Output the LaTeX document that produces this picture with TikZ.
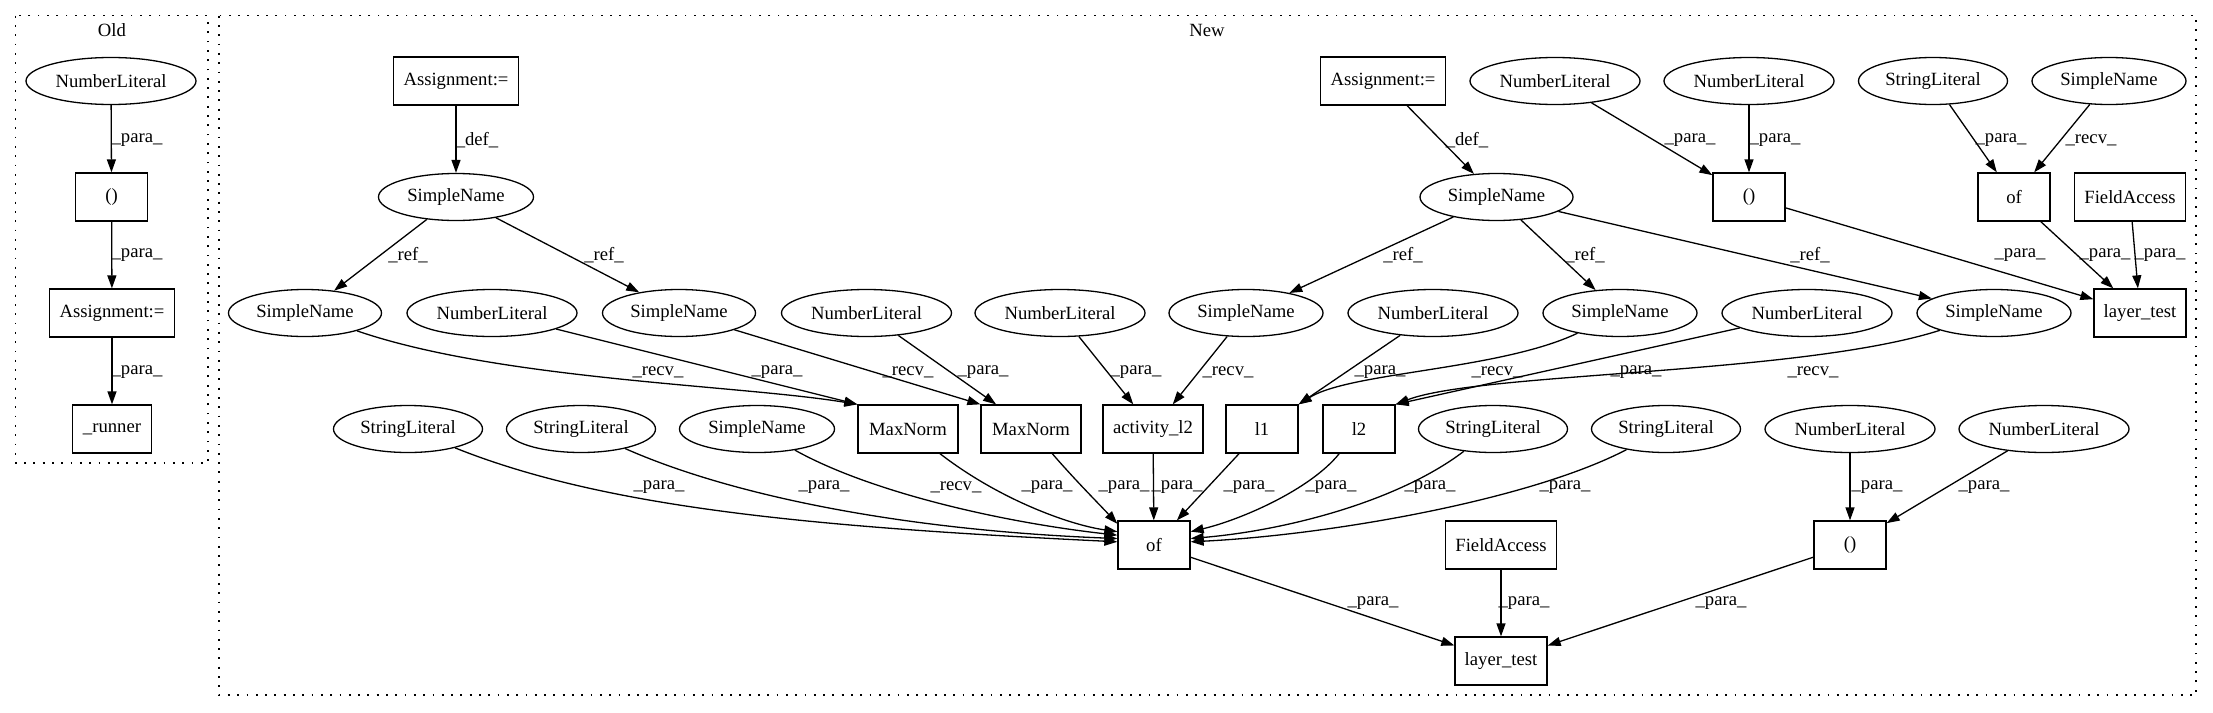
\documentclass[tikz,border=0pt]{standalone}
\usepackage{fontspec}
\setmainfont{Liberation Serif}
\usetikzlibrary{shapes.geometric,arrows.meta}
\begin{document}
\begin{tikzpicture}[x=1pt,y=-1pt,
  every node/.style={font=\fontsize{18.67}{22}\selectfont},
  ell/.style={draw, ellipse, line width=1.3pt, inner sep=0pt, minimum height=47pt},
  bx/.style={draw, rectangle, line width=1.3pt, inner sep=0pt, minimum height=48pt},
  lbl/.style={inner sep=0pt},
  arr/.style={line width=1.3pt, -{Triangle[length=13pt,width=9pt]}},
  clus/.style={line width=1.5pt, dash pattern=on 1.8pt off 7.5pt},
]
\useasboundingbox (0,0) rectangle (2213,712);
% clusters
\draw[clus] (15.7,15.7) rectangle (208,463);
\draw[clus] (219,15.7) rectangle (2196,695);
\node[lbl] (oldlbl) at (112,30) {Old};
\node[lbl] (newlbl) at (1207,30) {New};

% Old
\node[ell, minimum width=170pt] (oNL) at (111,81) {NumberLiteral};
\node[bx, minimum width=72pt] (oPar) at (111.6,197) {()};
\node[bx, minimum width=125pt] (oAsg) at (112,313) {Assignment:=};
\node[bx, minimum width=79pt] (oRun) at (112,429) {\_runner};

% New row 1
\node[bx, minimum width=125pt] (aL) at (456,81) {Assignment:=};
\node[bx, minimum width=125pt] (aR) at (1383,81) {Assignment:=};
\node[ell, minimum width=170pt] (nl1) at (1555,81) {NumberLiteral};
\node[ell, minimum width=170pt] (nl2) at (1749,81) {NumberLiteral};
\node[ell, minimum width=149pt] (sl1) at (1933,81) {StringLiteral};
\node[ell, minimum width=154pt] (sn1) at (2109,81) {SimpleName};
% row 2
\node[ell, minimum width=155pt] (snL) at (456,197) {SimpleName};
\node[ell, minimum width=153pt] (snR) at (1496.5,197) {SimpleName};
\node[bx, minimum width=72pt] (parA) at (1749,197) {()};
\node[bx, minimum width=72pt] (ofA) at (2014,197) {of};
\node[bx, minimum width=111pt] (faA) at (2130,197) {FieldAccess};
% row 3
\node[ell, minimum width=153pt] (sn3a) at (305,313) {SimpleName};
\node[ell, minimum width=170pt] (nl3a) at (492,313) {NumberLiteral};
\node[ell, minimum width=153pt] (sn3b) at (679,313) {SimpleName};
\node[ell, minimum width=170pt] (nl3b) at (866.5,313) {NumberLiteral};
\node[ell, minimum width=170pt] (nl3c) at (1060,313) {NumberLiteral};
\node[ell, minimum width=154pt] (sn3c) at (1246,313) {SimpleName};
\node[ell, minimum width=170pt] (nl3d) at (1433,313) {NumberLiteral};
\node[ell, minimum width=154pt] (sn3d) at (1620,313) {SimpleName};
\node[ell, minimum width=170pt] (nl3e) at (1807,313) {NumberLiteral};
\node[ell, minimum width=154pt] (sn3e) at (1994,313) {SimpleName};
\node[bx, minimum width=92pt] (lt1) at (2140,313) {layer\_test};
% row 4
\node[ell, minimum width=149pt] (sl4a) at (408,429) {StringLiteral};
\node[ell, minimum width=149pt] (sl4b) at (581,429) {StringLiteral};
\node[ell, minimum width=155pt] (sn4) at (757,429) {SimpleName};
\node[bx, minimum width=100pt] (mn1) at (908,429) {MaxNorm};
\node[bx, minimum width=100pt] (mn2) at (1031,429) {MaxNorm};
\node[bx, minimum width=100pt] (act) at (1153,429) {activity\_l2};
\node[bx, minimum width=72pt] (l1) at (1262,429) {l1};
\node[bx, minimum width=72pt] (l2) at (1359,429) {l2};
\node[ell, minimum width=149pt] (sl4c) at (1493,429) {StringLiteral};
\node[ell, minimum width=149pt] (sl4d) at (1666,429) {StringLiteral};
\node[ell, minimum width=170pt] (nl4a) at (1850,429) {NumberLiteral};
\node[ell, minimum width=170pt] (nl4b) at (2044,429) {NumberLiteral};
% row 5
\node[bx, minimum width=72pt] (of) at (1154,545) {of};
\node[bx, minimum width=111pt] (fa5) at (1501,545) {FieldAccess};
\node[bx, minimum width=72pt] (par5) at (1850,545) {()};
% row 6
\node[bx, minimum width=92pt] (lt2) at (1501,661) {layer\_test};

% Old edges
\draw[arr] (oNL) -- (oPar);
\draw[arr] (oPar) -- (oAsg);
\draw[arr] (oAsg) -- (oRun);
\node[lbl] (e1) at (137,140) {\_para\_};
\node[lbl] (e2) at (137,255) {\_para\_};
\node[lbl] (e3) at (137,372) {\_para\_};

% row1 -> row2
\draw[arr] (aL) -- (snL);
\draw[arr] (aR) -- (snR);
\draw[arr] (nl1) -- (parA);
\draw[arr] (nl2) -- (parA);
\draw[arr] (sl1) -- (ofA);
\draw[arr] (sn1) -- (ofA);
\node[lbl] (e4) at (477,140) {\_def\_};
\node[lbl] (e5) at (1467,140) {\_def\_};
\node[lbl] (e6) at (1690,140) {\_para\_};
\node[lbl] (e7) at (1775,140) {\_para\_};
\node[lbl] (e8) at (2001,140) {\_para\_};
\node[lbl] (e9) at (2091,140) {\_recv\_};

% row2 -> row3
\draw[arr] (snL) -- (sn3a);
\draw[arr] (snL) -- (sn3b);
\draw[arr] (snR) -- (sn3c);
\draw[arr] (snR) -- (sn3d);
\draw[arr] (snR) -- (sn3e);
\draw[arr] (parA) -- (lt1);
\draw[arr] (ofA) -- (lt1);
\draw[arr] (faA) -- (lt1);
\node[lbl] (e10) at (408,255) {\_ref\_};
\node[lbl] (e11) at (604,255) {\_ref\_};
\node[lbl] (e12) at (1403,255) {\_ref\_};
\node[lbl] (e13) at (1585,255) {\_ref\_};
\node[lbl] (e14) at (1810,255) {\_ref\_};
\node[lbl] (e15) at (2020,255) {\_para\_};
\node[lbl] (e16) at (2105,255) {\_para\_};
\node[lbl] (e17) at (2160,255) {\_para\_};

% row3 -> row4
\draw[arr] (sn3a) .. controls (500,380) and (740,385) .. (mn1.north west);
\draw[arr] (nl3a) -- (mn1.north west);
\draw[arr] (sn3b) -- (mn2.north west);
\draw[arr] (nl3b) -- (mn2);
\draw[arr] (nl3c) -- (act);
\draw[arr] (sn3c) -- (act);
\draw[arr] (nl3d) -- (l1.north east);
\draw[arr] (sn3d) .. controls (1500,370) and (1350,372) .. (l1.north east);
\draw[arr] (nl3e) -- (l2.north east);
\draw[arr] (sn3e) .. controls (1800,375) and (1480,372) .. (l2.north east);
\node[lbl] (e18) at (658,372) {\_recv\_};
\node[lbl] (e19) at (777,372) {\_para\_};
\node[lbl] (e20) at (908,372) {\_recv\_};
\node[lbl] (e21) at (983,372) {\_para\_};
\node[lbl] (e22) at (1136,372) {\_para\_};
\node[lbl] (e23) at (1228,372) {\_recv\_};
\node[lbl] (e24) at (1380,372) {\_para\_};
\node[lbl] (e25) at (1497,372) {\_recv\_};
\node[lbl] (e26) at (1636,372) {\_para\_};
\node[lbl] (e27) at (1813,372) {\_recv\_};

% row4 -> row5
\draw[arr] (sl4a) .. controls (605,508) and (812,527) .. (of.175);
\draw[arr] (sl4b) .. controls (730,495) and (900,530) .. (of.170);
\draw[arr] (sn4) .. controls (870,492) and (1000,522) .. (of.165);
\draw[arr] (mn1) .. controls (1000,500) and (1070,525) .. (of.160);
\draw[arr] (mn2) .. controls (1075,480) and (1100,505) .. (of.150);
\draw[arr] (act) -- (of);
\draw[arr] (l1) -- (of);
\draw[arr] (l2) .. controls (1310,490) and (1240,520) .. (of.20);
\draw[arr] (sl4c) .. controls (1400,500) and (1290,530) .. (of.10);
\draw[arr] (sl4d) .. controls (1530,500) and (1330,535) .. (of.5);
\draw[arr] (nl4a) -- (par5);
\draw[arr] (nl4b) -- (par5);
\node[lbl] (e28) at (659,487) {\_para\_};
\node[lbl] (e29) at (824,487) {\_para\_};
\node[lbl] (e30) at (956,487) {\_recv\_};
\node[lbl] (e31) at (1047,487) {\_para\_};
\node[lbl] (e32) at (1124,487) {\_para\_};
\node[lbl] (e33) at (1177,487) {\_para\_};
\node[lbl] (e34) at (1249,487) {\_para\_};
\node[lbl] (e35) at (1331,487) {\_para\_};
\node[lbl] (e36) at (1430,487) {\_para\_};
\node[lbl] (e37) at (1565,487) {\_para\_};
\node[lbl] (e38) at (1877,487) {\_para\_};
\node[lbl] (e39) at (1984,487) {\_para\_};

% row5 -> row6
\draw[arr] (of) -- (lt2);
\draw[arr] (fa5) -- (lt2);
\draw[arr] (par5) -- (lt2);
\node[lbl] (e40) at (1373,603) {\_para\_};
\node[lbl] (e41) at (1524,603) {\_para\_};
\node[lbl] (e42) at (1721,603) {\_para\_};
\end{tikzpicture}
\end{document}
